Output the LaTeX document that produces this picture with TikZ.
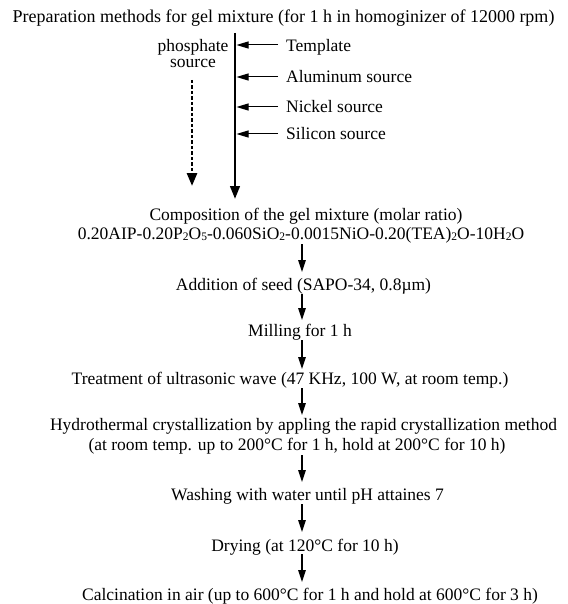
\documentclass[tikz,border=0pt]{standalone}
\usepackage{fontspec}
\setmainfont{Liberation Serif}
\usetikzlibrary{arrows.meta}
\newcommand{\sbs}[1]{\raisebox{-1pt}{\fontsize{11.5}{11.5}\selectfont #1}}
\begin{document}
\begin{tikzpicture}[x=1pt,y=-1pt,
  txt/.style={inner sep=0pt,font=\fontsize{17.5}{20}\selectfont,anchor=base},
  ltxt/.style={inner sep=0pt,font=\fontsize{17.5}{20}\selectfont,anchor=base west},
  flow/.style={-{Triangle[length=12pt,width=7.5pt]},line width=1.3pt},
  side/.style={-{Triangle[length=12pt,width=7pt]},line width=1pt},
  thick arr/.style={-{Triangle[length=13pt,width=9.5pt]},line width=2.7pt},
  dot arr/.style={-{Triangle[length=13pt,width=10pt]},line width=2.7pt,dash pattern=on 3.3pt off 2.2pt}]
\useasboundingbox (0,0) rectangle (567,604);
\node[txt,font=\fontsize{18}{20}\selectfont] (title) at (283.5,23) {Preparation methods for gel mixture (for 1 h in homoginizer of 12000 rpm)};
\node[txt] (phos1) at (193,52) {phosphate};
\node[txt] (phos2) at (193,68) {source};
\coordinate (mtop) at (235,33);
\coordinate (mbot) at (235,199);
\draw[thick arr] (mtop) -- (mbot);
\coordinate (dtop) at (192,80);
\coordinate (dbot) at (192,186);
\draw[dot arr] (dtop) -- (dbot);
\node[ltxt] (tmpl) at (286,52) {Template};
\node[ltxt] (alum) at (286,83) {Aluminum source};
\node[ltxt] (nick) at (286,113) {Nickel source};
\node[ltxt] (sili) at (286,140) {Silicon source};
\foreach \n/\y in {t/45,a/77,n/107,s/134}{
  \coordinate (\n s) at (278,\y);
  \coordinate (\n e) at (236.5,\y);
  \draw[side] (\n s) -- (\n e);
}
\node[txt] (comp1) at (306,220) {Composition of the gel mixture (molar ratio)};
\node[txt] (comp2) at (301,239.5) {0.20AIP-0.20P\sbs{2}O\sbs{5}-0.060SiO\sbs{2}-0.0015NiO-0.20(TEA)\sbs{2}O-10H\sbs{2}O};
\node[txt] (seed) at (303.5,290) {Addition of seed (SAPO-34, 0.8\textmu m)};
\node[txt] (mill) at (300,336.5) {Milling for 1 h};
\node[txt] (ultra) at (290,384) {Treatment of ultrasonic wave (47 KHz, 100 W, at room temp.)};
\node[txt] (hyd1) at (303.5,430) {Hydrothermal crystallization by appling the rapid crystallization method};
\node[txt] (hyd2) at (297,450) {(at room temp. up to 200°C for 1 h, hold at 200°C for 10 h)};
\node[txt] (wash) at (307.5,500.5) {Washing with water until pH attaines 7};
\node[txt] (dry) at (305,551) {Drying (at 120°C for 10 h)};
\node[txt] (calc) at (310,600) {Calcination in air (up to 600°C for 1 h and hold at 600°C for 3 h)};
\draw[flow] (302,244) -- (302,272);
\draw[flow] (302,294) -- (302,320);
\draw[flow] (302,340) -- (302,369);
\draw[flow] (302,388) -- (302,415);
\draw[flow] (302,455) -- (302,482);
\draw[flow] (302,504) -- (302,532);
\draw[flow] (302,554) -- (302,582);
\end{tikzpicture}
\end{document}
